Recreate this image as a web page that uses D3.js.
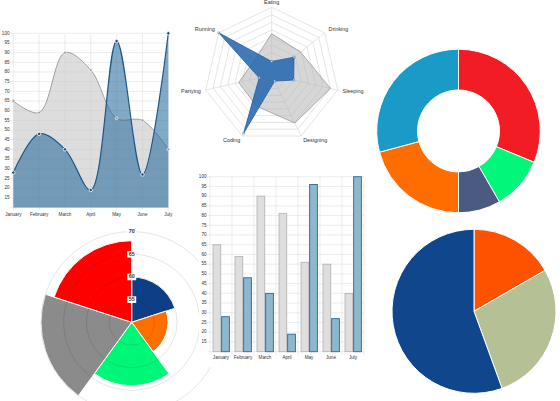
<!DOCTYPE html>
<html>
<head>
<meta charset="utf-8">
<script src="https://cdn.jsdelivr.net/npm/d3@7"></script>
<style>
  body { margin: 0; background: #fff; }
  svg { display: block; font-family: "Liberation Sans", Arial, sans-serif; }
</style>
</head>
<body>
<svg id="chart" width="560" height="401"></svg>
<script>
// Data
const months = ["January", "February", "March", "April", "May", "June", "July"];
const greyValues = [65, 59, 90, 81, 56, 55, 40];
const blueValues = [28, 48, 40, 19, 96, 27, 100];
const yTicks = [15, 20, 25, 30, 35, 40, 45, 50, 55, 60, 65, 70, 75, 80, 85, 90, 95, 100];

const radarLabels = ["Eating", "Drinking", "Sleeping", "Designing", "Coding", "Partying", "Running"];
const radarGrey = [65, 59, 90, 81, 56, 55, 40];
const radarBlue = [28, 48, 40, 19, 96, 27, 100];
const radarRings = [20, 30, 40, 50, 60, 70, 80, 90, 100];

const polarValues = [60, 58, 64, 70, 68];
const polarColors = ["#0e3f86", "#ff6e00", "#00f676", "#8b8b8b", "#ff0000"];
const polarTicks = [55, 60, 65, 70];

const donutValues = [30, 10, 8, 20, 28];
const donutColors = ["#f21c24", "#00f77a", "#4a5a80", "#ff6d00", "#1a9bc7"];

const pieValues = [30, 50, 100];
const pieColors = ["#ff5200", "#b5c095", "#0f468c"];

const svg = d3.select("#chart");
const gridColor = "#e4e4e4";
const labelColor = "#333";

// ---------- Polar area chart (bottom left), drawn first so the bar panel covers its rings ----------
const polarC = [131.7, 322.3];
const polarR = d3.scaleLinear().domain([50, 70]).range([0, 90.7]);
const polarA = d3.scaleLinear().domain([0, polarValues.length]).range([0, 2 * Math.PI]);
const polarG = svg.append("g").attr("transform", `translate(${polarC[0]},${polarC[1]})`);
const polarArc = d3.arc().innerRadius(0);

polarG.selectAll("path")
    .data(polarValues)
    .enter()
    .append("path")
    .attr("d", (d, i) => polarArc({ outerRadius: polarR(d), startAngle: polarA(i), endAngle: polarA(i + 1) }))
    .attr("fill", (d, i) => polarColors[i])
    .attr("stroke", "#fff").attr("stroke-width", 1);

polarG.selectAll("circle")
    .data(polarTicks)
    .enter()
    .append("circle")
    .attr("r", d => polarR(d))
    .attr("fill", "none").attr("stroke", "rgba(0,0,0,0.13)").attr("stroke-width", 0.8);

const polarLabels = polarG.selectAll("g.lbl")
    .data(polarTicks)
    .enter()
    .append("g")
    .attr("transform", d => `translate(0,${-polarR(d)})`);
polarLabels.append("rect")
    .attr("x", -4.5).attr("y", -3.3).attr("width", 9).attr("height", 6.6)
    .attr("fill", "#fff");
polarLabels.append("text")
    .attr("text-anchor", "middle").attr("dominant-baseline", "middle")
    .attr("font-size", 5.4).attr("font-weight", "bold").attr("fill", labelColor)
    .text(d => d);

// ---------- Line chart (top left) ----------
const lineX = d3.scalePoint().domain(months).range([13.3, 168.3]);
const lineY = d3.scaleLinear().domain([10, 100]).range([207.4, 33.3]);
const lineG = svg.append("g");

lineG.selectAll("line.h")
    .data([10].concat(yTicks))
    .enter()
    .append("line")
    .attr("x1", 10).attr("x2", 168.3)
    .attr("y1", d => lineY(d)).attr("y2", d => lineY(d))
    .attr("stroke", gridColor).attr("stroke-width", 0.7);

lineG.selectAll("line.v")
    .data(months)
    .enter()
    .append("line")
    .attr("x1", d => lineX(d)).attr("x2", d => lineX(d))
    .attr("y1", lineY(100)).attr("y2", lineY(10) + 3)
    .attr("stroke", gridColor).attr("stroke-width", 0.7);

lineG.selectAll("text.y")
    .data(yTicks)
    .enter()
    .append("text")
    .attr("x", 9.5).attr("y", d => lineY(d))
    .attr("text-anchor", "end").attr("dominant-baseline", "middle")
    .attr("font-size", 4.6).attr("fill", labelColor)
    .text(d => d);

lineG.selectAll("text.x")
    .data(months)
    .enter()
    .append("text")
    .attr("x", d => lineX(d)).attr("y", 214.5)
    .attr("text-anchor", "middle").attr("dominant-baseline", "middle")
    .attr("font-size", 4.6).attr("fill", labelColor)
    .text(d => d);

const lineCurve = d3.curveCatmullRom.alpha(0.5);
const area = d3.area()
    .x((d, i) => lineX(months[i]))
    .y0(lineY(10))
    .y1(d => lineY(d))
    .curve(lineCurve);
const line = d3.line()
    .x((d, i) => lineX(months[i]))
    .y(d => lineY(d))
    .curve(lineCurve);

lineG.append("path").attr("d", area(greyValues)).attr("fill", "rgba(200,200,200,0.62)");
lineG.append("path").attr("d", line(greyValues)).attr("fill", "none").attr("stroke", "#a0a0a0").attr("stroke-width", 1);
lineG.append("path").attr("d", area(blueValues)).attr("fill", "rgba(28,98,150,0.55)");
lineG.append("path").attr("d", line(blueValues)).attr("fill", "none").attr("stroke", "#1d5a8a").attr("stroke-width", 1.2);

lineG.selectAll("circle.g")
    .data(greyValues)
    .enter()
    .append("circle")
    .attr("cx", (d, i) => lineX(months[i])).attr("cy", d => lineY(d))
    .attr("r", 1.4).attr("fill", "#999").attr("stroke", "#fff").attr("stroke-width", 0.6);

lineG.selectAll("circle.b")
    .data(blueValues)
    .enter()
    .append("circle")
    .attr("cx", (d, i) => lineX(months[i])).attr("cy", d => lineY(d))
    .attr("r", 1.7).attr("fill", "#174e80").attr("stroke", "#fff").attr("stroke-width", 0.8);

// ---------- Radar chart (top middle) ----------
const radarC = [271.7, 75];
const radarR = d3.scaleLinear().domain([10, 100]).range([0, 67.7]);
const radarA = d3.scaleLinear().domain([0, radarLabels.length]).range([0, 2 * Math.PI]);
const radarG = svg.append("g").attr("transform", `translate(${radarC[0]},${radarC[1]})`);

const ringLine = d3.lineRadial()
    .angle((d, i) => radarA(i))
    .radius(d => radarR(d))
    .curve(d3.curveLinearClosed);

radarG.selectAll("path.ring")
    .data(radarRings)
    .enter()
    .append("path")
    .attr("d", v => ringLine(radarLabels.map(() => v)))
    .attr("fill", "none").attr("stroke", "#dadada").attr("stroke-width", 0.7);

radarG.selectAll("line.spoke")
    .data(radarLabels)
    .enter()
    .append("line")
    .attr("x1", 0).attr("y1", 0)
    .attr("x2", (d, i) => radarR(100) * Math.sin(radarA(i)))
    .attr("y2", (d, i) => -radarR(100) * Math.cos(radarA(i)))
    .attr("stroke", "#dadada").attr("stroke-width", 0.7);

radarG.append("path")
    .attr("d", ringLine(radarGrey))
    .attr("fill", "rgba(180,180,180,0.55)").attr("stroke", "#999").attr("stroke-width", 0.8);
radarG.append("path")
    .attr("d", ringLine(radarBlue))
    .attr("fill", "rgba(40,105,175,0.88)").attr("stroke", "#245d97").attr("stroke-width", 0.8);

radarG.selectAll("circle.b")
    .data(radarBlue)
    .enter()
    .append("circle")
    .attr("cx", (d, i) => radarR(d) * Math.sin(radarA(i)))
    .attr("cy", (d, i) => -radarR(d) * Math.cos(radarA(i)))
    .attr("r", 1.1).attr("fill", "#cfe0f0").attr("stroke", "#245d97").attr("stroke-width", 0.4);

radarG.selectAll("text")
    .data(radarLabels)
    .enter()
    .append("text")
    .attr("x", (d, i) => (radarR(100) + 5) * Math.sin(radarA(i)))
    .attr("y", (d, i) => -(radarR(100) + 5) * Math.cos(radarA(i)))
    .attr("text-anchor", (d, i) => {
        const s = Math.sin(radarA(i));
        return Math.abs(s) < 0.1 ? "middle" : (s > 0 ? "start" : "end");
    })
    .attr("dominant-baseline", "middle")
    .attr("font-size", 5.4).attr("fill", labelColor)
    .text(d => d);

// ---------- Bar chart (bottom middle) ----------
const barX = d3.scaleBand().domain(months).range([210, 364]);
const barInner = d3.scaleBand().domain([0, 1]).range([3, barX.bandwidth() - 2.6]).paddingInner(0.1);
const barY = d3.scaleLinear().domain([10, 100]).range([351.7, 176.7]);
const barG = svg.append("g");

// white panel of the bar chart hides the polar rings behind it
barG.append("rect")
    .attr("x", 199).attr("y", 168).attr("width", 172).attr("height", 199)
    .attr("fill", "#fff");

barG.selectAll("line.h")
    .data([10].concat(yTicks))
    .enter()
    .append("line")
    .attr("x1", 207).attr("x2", 364)
    .attr("y1", d => barY(d)).attr("y2", d => barY(d))
    .attr("stroke", gridColor).attr("stroke-width", 0.7);

barG.selectAll("line.v")
    .data(months.concat(["end"]))
    .enter()
    .append("line")
    .attr("x1", (d, i) => 210 + i * barX.step()).attr("x2", (d, i) => 210 + i * barX.step())
    .attr("y1", barY(100)).attr("y2", barY(10) + 3)
    .attr("stroke", gridColor).attr("stroke-width", 0.7);

barG.selectAll("text.y")
    .data(yTicks)
    .enter()
    .append("text")
    .attr("x", 206.5).attr("y", d => barY(d))
    .attr("text-anchor", "end").attr("dominant-baseline", "middle")
    .attr("font-size", 4.6).attr("fill", labelColor)
    .text(d => d);

barG.selectAll("text.x")
    .data(months)
    .enter()
    .append("text")
    .attr("x", d => barX(d) + barX.bandwidth() / 2).attr("y", 358)
    .attr("text-anchor", "middle").attr("dominant-baseline", "middle")
    .attr("font-size", 4.6).attr("fill", labelColor)
    .text(d => d);

barG.selectAll("rect.g")
    .data(greyValues)
    .enter()
    .append("rect")
    .attr("x", (d, i) => barX(months[i]) + barInner(0))
    .attr("y", d => barY(d))
    .attr("width", barInner.bandwidth())
    .attr("height", d => barY(10) - barY(d))
    .attr("fill", "#dedede").attr("stroke", "#b0b0b0").attr("stroke-width", 0.8);

barG.selectAll("rect.b")
    .data(blueValues)
    .enter()
    .append("rect")
    .attr("x", (d, i) => barX(months[i]) + barInner(1))
    .attr("y", d => barY(d))
    .attr("width", barInner.bandwidth())
    .attr("height", d => barY(10) - barY(d))
    .attr("fill", "#8db6cf").attr("stroke", "#2b6896").attr("stroke-width", 0.9);

// ---------- Doughnut (top right) ----------
const pieGen = d3.pie().sort(null).value(d => d);
const donutG = svg.append("g").attr("transform", "translate(458.5,131)");
const donutArc = d3.arc().innerRadius(41).outerRadius(81.8);
donutG.selectAll("path")
    .data(pieGen(donutValues))
    .enter()
    .append("path")
    .attr("d", donutArc)
    .attr("fill", (d, i) => donutColors[i])
    .attr("stroke", "#fff").attr("stroke-width", 1);

// ---------- Pie (bottom right) ----------
const pieG = svg.append("g").attr("transform", "translate(474,311.3)");
const pieArc = d3.arc().innerRadius(0).outerRadius(82);
pieG.selectAll("path")
    .data(pieGen(pieValues))
    .enter()
    .append("path")
    .attr("d", pieArc)
    .attr("fill", (d, i) => pieColors[i])
    .attr("stroke", "#fff").attr("stroke-width", 1);
</script>
</body>
</html>
